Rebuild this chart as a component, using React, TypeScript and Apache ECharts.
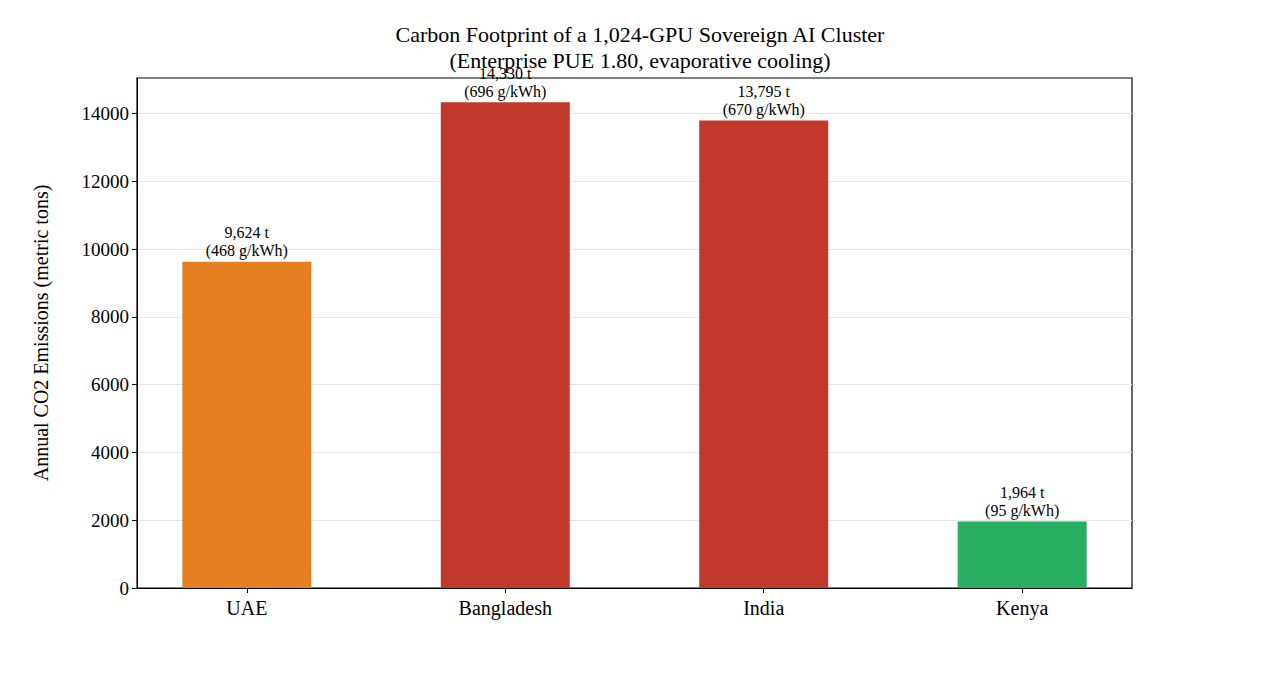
import { useEffect, useRef } from 'react'
import * as echarts from 'echarts'

const countries = ['UAE', 'Bangladesh', 'India', 'Kenya']
const emissions = [9624, 14330, 13795, 1964]
const intensity = [468, 696, 670, 95]
const colors = ['#e67e22', '#c0392b', '#c0392b', '#27ae60']
const yTicks = [0, 2000, 4000, 6000, 8000, 10000, 12000, 14000]

const font = '"Liberation Serif", "DejaVu Serif", serif'

export default function App() {
  const ref = useRef<HTMLDivElement>(null)

  useEffect(() => {
    if (!ref.current) return
    const chart = echarts.init(ref.current, undefined, { renderer: 'svg' })
    chart.setOption({
      animation: false,
      backgroundColor: '#fff',
      textStyle: { fontFamily: font },
      title: {
        text: 'Carbon Footprint of a 1,024-GPU Sovereign AI Cluster\n(Enterprise PUE 1.80, evaporative cooling)',
        left: 627,
        textAlign: 'center',
        top: 8,
        textStyle: { fontFamily: font, fontSize: 22, fontWeight: 'normal', color: '#000', lineHeight: 26 }
      },
      grid: { left: 129, right: 140, top: 70, bottom: 88, show: true, borderColor: '#000', borderWidth: 1.2 },
      xAxis: {
        type: 'value',
        min: -0.425,
        max: 3.425,
        splitLine: { show: false },
        axisLine: { onZero: false, lineStyle: { color: '#000' } },
        axisTick: { show: true, customValues: [0, 1, 2, 3], length: 5, lineStyle: { color: '#000' } },
        axisLabel: {
          customValues: [0, 1, 2, 3],
          formatter: (v: number) => countries[Math.round(v)] ?? '',
          color: '#000',
          fontSize: 20,
          fontFamily: font,
          margin: 10
        }
      },
      yAxis: {
        type: 'value',
        min: 0,
        max: 15046,
        name: 'Annual CO2 Emissions (metric tons)',
        nameLocation: 'middle',
        nameGap: 86,
        nameTextStyle: { fontFamily: font, fontSize: 20, color: '#000' },
        axisLine: { show: true, onZero: false, lineStyle: { color: '#000' } },
        axisTick: { show: true, customValues: yTicks, length: 5, lineStyle: { color: '#000' } },
        axisLabel: {
          customValues: yTicks,
          formatter: (v: number) => String(v),
          color: '#000',
          fontSize: 19,
          fontFamily: font,
          margin: 8
        },
        splitLine: { show: true, lineStyle: { color: '#e6e6e6' } }
      },
      series: [
        {
          type: 'bar',
          barWidth: 129,
          data: emissions.map((v, i) => ({
            value: [i, v],
            itemStyle: { color: colors[i] }
          })),
          label: {
            show: true,
            position: 'top',
            distance: 2,
            color: '#000',
            fontFamily: font,
            fontSize: 16,
            lineHeight: 18,
            align: 'center',
            formatter: (p: any) =>
              `${emissions[p.dataIndex].toLocaleString('en-US')} t\n(${intensity[p.dataIndex]} g/kWh)`
          }
        }
      ]
    })
    return () => chart.dispose()
  }, [])

  return <div ref={ref} style={{ width: 1264, height: 668 }} />
}
